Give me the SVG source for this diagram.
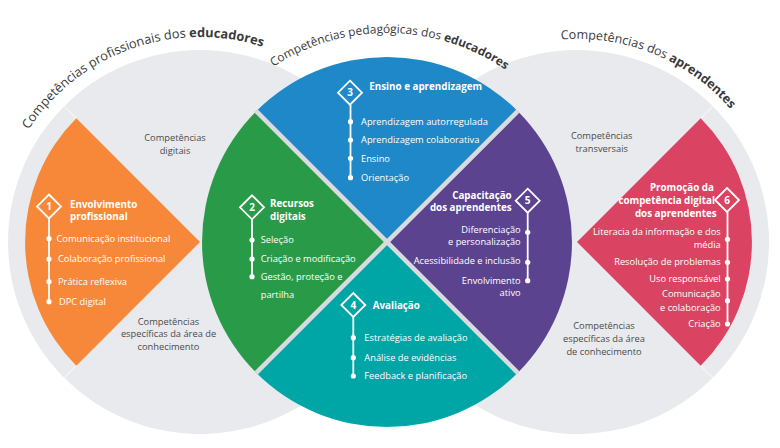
<svg xmlns="http://www.w3.org/2000/svg" xmlns:xlink="http://www.w3.org/1999/xlink" width="780" height="448" viewBox="0 0 780 448">
<style>
.bg{fill:#e9eaee}
text{font-family:"Open Sans","DejaVu Sans",sans-serif}
.lbl{font-size:9.3px;fill:#4a4a4a;text-anchor:middle}
.it{font-size:9.3px;fill:#fff}
.r{text-anchor:end}
.hd{font-size:9.8px;font-weight:700;fill:#fff}
.num{font-size:10px;font-weight:700;fill:#fff;text-anchor:middle}
.dm{fill:none;stroke:#fff;stroke-width:1.8}
.ln{stroke:#fff;stroke-width:1.8;fill:none}
.dot{fill:#fff}
.ttl{fill:#3a3a3a}
.ttl tspan.b{font-weight:700}
.gap{stroke:#dadbdf;stroke-width:4.5}
.ext{stroke:#f4f4f6;stroke-width:1.5}
</style>
<defs>
<path id="dia" d="M0,-12 L12,0 L0,12 L-12,0Z"/>
<path id="arcL" d="M-4.2,224.1 A205,205 0 0 1 347.5,99.6"/>
<path id="arcM" d="M198.8,151.2 A209,209 0 0 1 577.6,156.2"/>
<path id="arcR" d="M439.3,92.8 A203,203 0 0 1 779.8,232.4"/>
</defs>

<g id="backgrounds">
<circle class="bg" cx="200" cy="242" r="192"/>
<circle class="bg" cx="577" cy="242" r="192"/>
<line class="ext" x1="76.3" y1="118.3" x2="64.2" y2="106.2"/>
<line class="ext" x1="76.3" y1="365.7" x2="64.2" y2="377.8"/>
<line class="ext" x1="700.7" y1="118.3" x2="712.8" y2="106.2"/>
<line class="ext" x1="700.7" y1="365.7" x2="712.8" y2="377.8"/>
</g>

<g id="titles">
<text class="ttl" font-size="12.8"><textPath xlink:href="#arcL" href="#arcL" startOffset="50%" text-anchor="middle">Competências profissionais dos <tspan class="b">educadores</tspan></textPath></text>
<text class="ttl" font-size="11.9"><textPath xlink:href="#arcM" href="#arcM" startOffset="50%" text-anchor="middle">Competências pedagógicas dos <tspan class="b">educadores</tspan></textPath></text>
<text class="ttl" font-size="12.5"><textPath xlink:href="#arcR" href="#arcR" startOffset="50%" text-anchor="middle">Competências dos <tspan class="b">aprendentes</tspan></textPath></text>
</g>

<g id="side-labels">
<text class="lbl" x="175" y="140.9">Competências</text>
<text class="lbl" x="175" y="153.9">digitais</text>
<text class="lbl" x="168.5" y="324.6">Competências</text>
<text class="lbl" x="168.5" y="337.3">específicas da área de</text>
<text class="lbl" x="168.5" y="350">conhecimento</text>
<text class="lbl" x="601.7" y="139.2">Competências</text>
<text class="lbl" x="601.7" y="152.2">transversais</text>
<text class="lbl" x="604" y="329.2">Competências</text>
<text class="lbl" x="604" y="342">específicas da área</text>
<text class="lbl" x="604" y="354.8">de conhecimento</text>
</g>

<g id="node1">
<path d="M200,242 L76.3,118.3 A175,175 0 0 0 76.3,365.7 Z" fill="#f7883a"/>
<use href="#dia" xlink:href="#dia" class="dm" x="49" y="206.5"/>
<text class="num" x="49" y="210.1">1</text>
<text class="hd" x="70" y="207.5">Envolvimento</text>
<text class="hd" x="70" y="220.2">profissional</text>
<line class="ln" x1="49" y1="218.5" x2="49" y2="301.7"/>
<circle class="dot" cx="49" cy="238.7" r="2.6"/>
<circle class="dot" cx="49" cy="259" r="2.6"/>
<circle class="dot" cx="49" cy="281.7" r="2.6"/>
<circle class="dot" cx="49" cy="301.7" r="2.6"/>
<text class="it" x="56.5" y="241.9">Comunicação institucional</text>
<text class="it" x="58" y="262.2">Colaboração profissional</text>
<text class="it" x="58" y="284.9">Prática reflexiva</text>
<text class="it" x="59" y="304.9">DPC digital</text>
</g>

<g id="node6">
<path d="M577,242 L700.7,118.3 A175,175 0 0 1 700.7,365.7 Z" fill="#db4362"/>
<use href="#dia" xlink:href="#dia" class="dm" x="727" y="200"/>
<text class="num" x="727" y="203.6">6</text>
<text class="hd r" x="714" y="190.8">Promoção da</text>
<text class="hd r" x="715" y="203.5">competência digital</text>
<text class="hd r" x="716.7" y="216.8">dos aprendentes</text>
<line class="ln" x1="727.5" y1="212" x2="727.5" y2="324"/>
<circle class="dot" cx="727.5" cy="239.3" r="2.6"/>
<circle class="dot" cx="727.5" cy="262.3" r="2.6"/>
<circle class="dot" cx="727.5" cy="279" r="2.6"/>
<circle class="dot" cx="727.5" cy="300.7" r="2.6"/>
<circle class="dot" cx="727.5" cy="324" r="2.6"/>
<text class="it r" x="720.7" y="234.9">Literacia da informação e dos</text>
<text class="it r" x="720.7" y="248.2">média</text>
<text class="it r" x="720.7" y="264.9">Resolução de problemas</text>
<text class="it r" x="720.7" y="282.2">Uso responsável</text>
<text class="it r" x="720.7" y="297.2">Comunicação</text>
<text class="it r" x="720.7" y="310.5">e colaboração</text>
<text class="it r" x="720.7" y="327.2">Criação</text>
</g>

<g id="node2">
<path d="M387,242 L256.2,372.8 A185,185 0 0 1 256.2,111.2 Z" fill="#299b48"/>
<use href="#dia" xlink:href="#dia" class="dm" x="252" y="207.3"/>
<text class="num" x="252" y="210.9">2</text>
<text class="hd" x="270" y="206.8">Recursos</text>
<text class="hd" x="270" y="219.5">digitais</text>
<line class="ln" x1="252" y1="219.3" x2="252" y2="276.7"/>
<circle class="dot" cx="252" cy="240" r="2.6"/>
<circle class="dot" cx="252" cy="259" r="2.6"/>
<circle class="dot" cx="252" cy="276.7" r="2.6"/>
<text class="it" x="260.7" y="243.2">Seleção</text>
<text class="it" x="260.7" y="262.2">Criação e modificação</text>
<text class="it" x="260.7" y="279.9">Gestão, proteção e</text>
<text class="it" x="260.7" y="298.2">partilha</text>
</g>

<g id="node3">
<path d="M387,242 L256.2,111.2 A185,185 0 0 1 517.8,111.2 Z" fill="#1e88c8"/>
<use href="#dia" xlink:href="#dia" class="dm" x="350" y="92.7"/>
<text class="num" x="350" y="96.3">3</text>
<text class="hd" x="369.3" y="89.5">Ensino e aprendizagem</text>
<line class="ln" x1="350.5" y1="104.7" x2="350.5" y2="177.7"/>
<circle class="dot" cx="350.5" cy="121.7" r="2.6"/>
<circle class="dot" cx="350.5" cy="140" r="2.6"/>
<circle class="dot" cx="350.5" cy="158.3" r="2.6"/>
<circle class="dot" cx="350.5" cy="177.7" r="2.6"/>
<text class="it" x="361" y="124.9">Aprendizagem autorregulada</text>
<text class="it" x="361" y="143.2">Aprendizagem colaborativa</text>
<text class="it" x="361" y="161.5">Ensino</text>
<text class="it" x="361" y="180.9">Orientação</text>
</g>

<g id="node5">
<path d="M387,242 L517.8,111.2 A185,185 0 0 1 517.8,372.8 Z" fill="#5b438f"/>
<use href="#dia" xlink:href="#dia" class="dm" x="527.7" y="200.7"/>
<text class="num" x="527.7" y="204.3">5</text>
<text class="hd r" x="511.7" y="198.5">Capacitação</text>
<text class="hd r" x="511.7" y="211.2">dos aprendentes</text>
<line class="ln" x1="527.7" y1="212.7" x2="527.7" y2="280.7"/>
<circle class="dot" cx="527.7" cy="232.3" r="2.6"/>
<circle class="dot" cx="527.7" cy="262.3" r="2.6"/>
<circle class="dot" cx="527.7" cy="280.7" r="2.6"/>
<text class="it r" x="520.7" y="233.2">Diferenciação</text>
<text class="it r" x="520.7" y="244.9">e personalização</text>
<text class="it r" x="520.7" y="263.9">Acessibilidade e inclusão</text>
<text class="it r" x="520.7" y="283.9">Envolvimento</text>
<text class="it r" x="520.7" y="295.9">ativo</text>
</g>

<g id="node4">
<path d="M387,242 L517.8,372.8 A185,185 0 0 1 256.2,372.8 Z" fill="#00a6a6"/>
<use href="#dia" xlink:href="#dia" class="dm" x="353.3" y="305"/>
<text class="num" x="353.3" y="308.6">4</text>
<text class="hd" x="372.7" y="308.5">Avaliação</text>
<line class="ln" x1="353.3" y1="317" x2="353.3" y2="376"/>
<circle class="dot" cx="353.3" cy="337.7" r="2.6"/>
<circle class="dot" cx="353.3" cy="357.7" r="2.6"/>
<circle class="dot" cx="353.3" cy="376" r="2.6"/>
<text class="it" x="364.3" y="340.9">Estratégias de avaliação</text>
<text class="it" x="364.3" y="360.9">Análise de evidências</text>
<text class="it" x="364.3" y="379.2">Feedback e planificação</text>
</g>

<g id="connectors">
<line class="gap" x1="256.2" y1="111.2" x2="517.8" y2="372.8"/>
<line class="gap" x1="517.8" y1="111.2" x2="256.2" y2="372.8"/>
</g>
</svg>
